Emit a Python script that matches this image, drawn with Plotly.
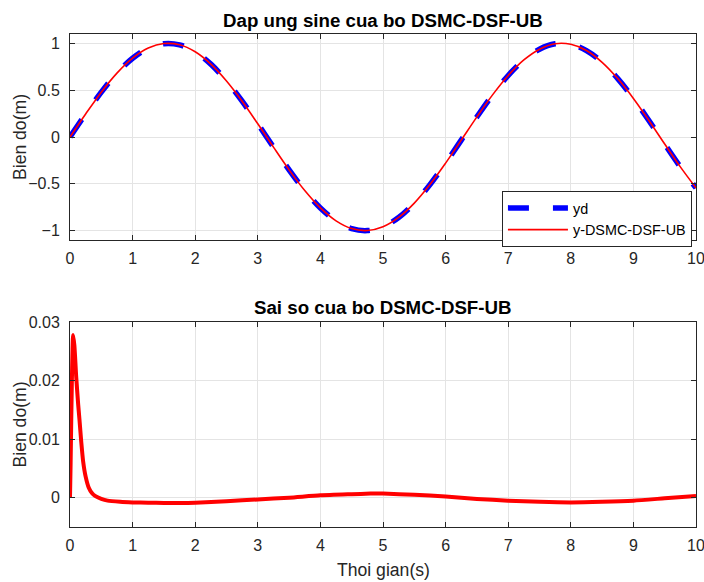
import plotly.graph_objects as go
from plotly.subplots import make_subplots

# ---- data ----
t_top = [0, 0.25, 0.5, 0.75, 1, 1.25, 1.5, 1.75, 2, 2.25, 2.5, 2.75, 3, 3.25, 3.5,
         3.75, 4, 4.25, 4.5, 4.75, 5, 5.25, 5.5, 5.75, 6, 6.25, 6.5, 6.75, 7, 7.25,
         7.5, 7.75, 8, 8.25, 8.5, 8.75, 9, 9.25, 9.5, 9.75, 10]
yd = [0, 0.247, 0.479, 0.682, 0.841, 0.949, 0.997, 0.984, 0.909, 0.778, 0.598, 0.382,
      0.141, -0.108, -0.351, -0.572, -0.757, -0.895, -0.978, -0.999, -0.959, -0.859,
      -0.706, -0.508, -0.279, -0.033, 0.215, 0.450, 0.657, 0.823, 0.938, 0.995, 0.989,
      0.923, 0.798, 0.624, 0.412, 0.174, -0.075, -0.319, -0.544]
y_dsmc = [0, 0.246, 0.479, 0.682, 0.842, 0.950, 0.998, 0.985, 0.910, 0.778, 0.598, 0.382,
          0.141, -0.108, -0.351, -0.572, -0.757, -0.895, -0.978, -0.999, -0.959, -0.859,
          -0.706, -0.508, -0.279, -0.033, 0.215, 0.450, 0.657, 0.823, 0.938, 0.996, 0.990,
          0.924, 0.798, 0.624, 0.412, 0.174, -0.075, -0.319, -0.544]

t_err = [0, 0.01, 0.03, 0.05, 0.07, 0.1, 0.13, 0.15, 0.18, 0.21, 0.25, 0.3, 0.35, 0.4,
         0.5, 0.6, 0.8, 1.0, 1.25, 1.5, 1.75, 2.0, 2.5, 3.0, 3.5, 4.0, 4.5, 4.8, 5.0,
         5.5, 6.0, 6.5, 7.0, 7.5, 8.0, 8.5, 9.0, 9.5, 10.0]
err = [0, 0.006, 0.02, 0.0278, 0.026, 0.0205, 0.016, 0.0135, 0.0095, 0.0062, 0.0036,
       0.0017, 0.0008, 0.0003, -0.0002, -0.0005, -0.0007, -0.0008, -0.00085, -0.0009,
       -0.0009, -0.00085, -0.0006, -0.0003, 0.0, 0.0004, 0.0006, 0.0007, 0.0007,
       0.0005, 0.0002, -0.0002, -0.0005, -0.0007, -0.0008, -0.0007, -0.0005, -0.0001,
       0.0003]

x_ticks = [0, 1, 2, 3, 4, 5, 6, 7, 8, 9, 10]
y1_ticks = [-1, -0.5, 0, 0.5, 1]
y2_ticks = [0, 0.01, 0.02, 0.03]
y2_ticklabels = ["0", "0.01", "0.02", "0.03"]

title1 = "Dap ung sine cua bo DSMC-DSF-UB"
title2 = "Sai so cua bo DSMC-DSF-UB"
ylabel = "Bien do(m)"
xlabel = "Thoi gian(s)"

FONT = "Liberation Sans, Arial, sans-serif"
AX = "#262626"
GRID = "#e4e4e4"
TOP_DOMAIN = [0.5821, 1.0]
BOT_DOMAIN = [0.0, 0.4158]

fig = make_subplots(rows=2, cols=1, vertical_spacing=0.166)

fig.add_trace(go.Scatter(x=t_top, y=yd, mode="lines", name="yd",
                         line=dict(color="#0000ff", width=5.5, dash="21px,24px", shape="spline")),
              row=1, col=1)
fig.add_trace(go.Scatter(x=t_top, y=y_dsmc, mode="lines", name="y-DSMC-DSF-UB",
                         line=dict(color="#ff0000", width=1.6, shape="spline")),
              row=1, col=1)
fig.add_trace(go.Scatter(x=t_err, y=err, mode="lines", showlegend=False,
                         line=dict(color="#ff0000", width=4, shape="spline", smoothing=0.6)),
              row=2, col=1)

axis_common = dict(showline=True, linecolor=AX, linewidth=1, mirror="ticks",
                   ticks="inside", ticklen=5, tickcolor=AX, showgrid=True,
                   gridcolor=GRID, gridwidth=1, zeroline=False, automargin=False,
                   tickfont=dict(family=FONT, size=16, color=AX))

fig.update_xaxes(range=[0, 10], tickvals=x_ticks, ticklabelstandoff=4,
                 ticklabeloverflow="allow", **axis_common)
fig.update_yaxes(ticklabelstandoff=6, **axis_common)
fig.update_yaxes(range=[-1.1, 1.1], tickvals=y1_ticks, row=1, col=1, domain=TOP_DOMAIN)
fig.update_yaxes(range=[-0.005, 0.03], tickvals=y2_ticks, ticktext=y2_ticklabels,
                 row=2, col=1, domain=BOT_DOMAIN)

LBL = dict(family=FONT, size=17.6, color=AX)
TTL = dict(family=FONT, size=18.7, color="black")

# titles
fig.add_annotation(text="<b>" + title1 + "</b>", x=0.5, y=TOP_DOMAIN[1], xref="paper", yref="paper",
                   xanchor="center", yanchor="middle", yshift=14, showarrow=False, font=TTL)
fig.add_annotation(text="<b>" + title2 + "</b>", x=0.5, y=BOT_DOMAIN[1], xref="paper", yref="paper",
                   xanchor="center", yanchor="middle", yshift=15, showarrow=False, font=TTL)
# y labels
for dom in (TOP_DOMAIN, BOT_DOMAIN):
    fig.add_annotation(text=ylabel, x=0, y=(dom[0] + dom[1]) / 2, xref="paper", yref="paper",
                       xanchor="center", yanchor="middle", xshift=-50, textangle=-90,
                       showarrow=False, font=LBL)
# x label
fig.add_annotation(text=xlabel, x=0.5, y=0, xref="paper", yref="paper",
                   xanchor="center", yanchor="middle", yshift=-43, showarrow=False, font=LBL)

fig.update_layout(
    width=704, height=582,
    margin=dict(l=70, r=8, t=34, b=55),
    plot_bgcolor="white", paper_bgcolor="white",
    font=dict(family=FONT, color=AX),
    legend=dict(x=0.69, y=0.6815, xanchor="left", yanchor="top",
                bgcolor="white", bordercolor=AX, borderwidth=1,
                font=dict(family=FONT, size=14.4, color="black"),
                itemwidth=60, tracegroupgap=0),
)

# remove the page's default body margin so the figure fills the window exactly
fig.write_html("out.html", config={"displayModeBar": False},
               post_script="document.body.style.margin='0';document.body.style.overflow='hidden';")
